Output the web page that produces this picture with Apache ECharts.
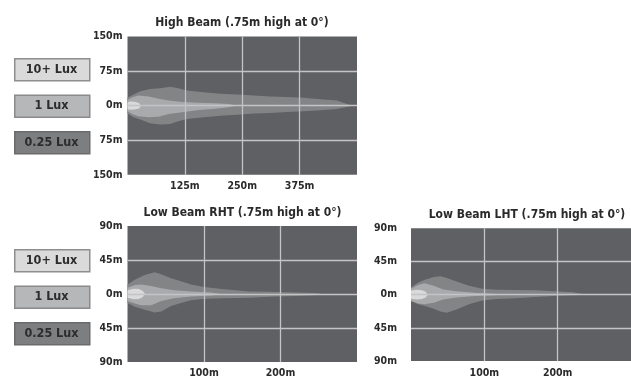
<!DOCTYPE html>
<html><head><meta charset="utf-8">
<script src="https://cdn.jsdelivr.net/npm/echarts@6/dist/echarts.min.js"></script>
<style>html,body{margin:0;padding:0;background:#fff}#c{width:631px;height:379px}</style>
</head><body><div id="c"></div>
<script>
// ---------- data ----------
const titles = ['High Beam (.75m high at 0°)', 'Low Beam RHT (.75m high at 0°)', 'Low Beam LHT (.75m high at 0°)'];
const legendLabels = ['10+ Lux', '1 Lux', '0.25 Lux'];

// High beam (distance m, upper m, lower m)
const hbDist025 = [0, 13, 28, 49, 71, 93, 111, 129, 166, 202, 238, 275, 311, 347, 383, 420, 456, 490];
const hbUp025   = [17, 24, 31, 36, 38, 41, 38, 33, 29, 26, 24, 22, 20, 19, 17, 14, 11, 0];
const hbLo025   = [-17, -25, -30, -38, -41, -40, -34, -29, -25, -22, -20, -17, -16, -14, -12, -10, -7, 0];
const hbDist1   = [0, 12, 24, 46, 68, 90, 119, 155, 191, 220, 238];
const hbUp1     = [12, 19, 22, 20, 15, 11, 8, 6.5, 5, 3.5, 0];
const hbLo1     = [-12, -19, -23, -25, -24, -18, -14.5, -9.5, -6.5, -3.5, 0];
const hbDist10  = [0, 5, 15, 25, 30];
const hbUp10    = [7, 9, 8.5, 6, 0];
const hbLo10    = [-7, -9, -8.5, -6, 0];

// Low beam RHT
const rhDist025 = [0, 9.5, 22.5, 35.5, 44, 57, 70, 83, 100, 126, 159, 185, 219, 245, 255];
const rhUp025   = [12.7, 19, 25, 28.7, 26, 21, 17, 12.7, 9.3, 6.3, 3.4, 3, 2, 1.3, 0];
const rhLo025   = [-11.8, -17, -21, -24.5, -23, -16, -12, -8.4, -6.3, -5.5, -5, -3.8, -2.5, -1.7, 0];
const rhDist1   = [0, 9.5, 18, 31, 44, 61, 83, 109, 123];
const rhUp1     = [8.4, 12, 12.7, 10.5, 7.6, 5, 3.4, 2.1, 0];
const rhLo1     = [-9.3, -12.7, -14.8, -14.8, -9.3, -5.5, -3.4, -2.1, 0];
const rhDist10  = [0, 8, 15, 20, 23];
const rhUp10    = [5, 7, 6.5, 4, 0];
const rhLo10    = [-5, -7, -6.5, -4, 0];

// Low beam LHT
const lhDist025 = [0, 9.6, 18, 31, 40, 49, 62, 79, 97, 116, 142, 169, 195, 221, 239];
const lhUp025   = [10, 16, 20, 24, 25, 22.5, 18, 12, 8, 6.7, 6.3, 5.8, 4.6, 3.3, 0];
const lhLo025   = [-8.75, -13, -15, -19, -23, -24.6, -20, -13, -8, -6, -5, -3.3, -1.7, -0.8, 0];
const lhDist1   = [0, 9.6, 18, 31, 44, 62, 88, 114, 125];
const lhUp1     = [8, 13, 15.4, 12, 7, 4.6, 2.5, 1.2, 0];
const lhLo1     = [-8.75, -12, -13, -11, -6.7, -3.7, -2, -0.8, 0];
const lhDist10  = [0, 8, 15, 20, 23];
const lhUp10    = [5.5, 6.5, 6, 4, 0];
const lhLo10    = [-5.5, -6.5, -6, -4, 0];

// axes
const hbXMax = 500, hbXInt = 125, hbYMax = 150, hbYInt = 75;
const lbXMax = 300, lbXInt = 100, lbYMax = 90, lbYInt = 45;

// ---------- styles ----------
const FONT = "'Liberation Sans Narrow','DejaVu Sans Condensed',sans-serif";
const C_BG = '#5f6063', C025 = '#838486', C1 = '#a9aaac', C10 = '#dadadb', C_GRID = '#c4c4c6';

const chart = echarts.init(document.getElementById('c'), null, {renderer: 'canvas'});

function levels(d025, u025, l025, d1, u1, l1, d10, u10, l10) {
  return [
    {dist: d025, up: u025, lo: l025, color: C025},
    {dist: d1, up: u1, lo: l1, color: C1},
    {dist: d10, up: u10, lo: l10, color: C10}
  ];
}
const allLevels = [
  levels(hbDist025, hbUp025, hbLo025, hbDist1, hbUp1, hbLo1, hbDist10, hbUp10, hbLo10),
  levels(rhDist025, rhUp025, rhLo025, rhDist1, rhUp1, rhLo1, rhDist10, rhUp10, rhLo10),
  levels(lhDist025, lhUp025, lhLo025, lhDist1, lhUp1, lhLo1, lhDist10, lhUp10, lhLo10)
];

function bandSeries(idx) {
  const lv = allLevels[idx];
  return {
    type: 'custom', xAxisIndex: idx, yAxisIndex: idx, z: 2, silent: true, animation: false,
    data: lv.map((l, i) => [l.dist[0], 0, i]),
    encode: {x: 0, y: 1},
    renderItem: function (params, api) {
      const l = lv[params.dataIndex];
      const pts = [];
      for (let k = 0; k < l.dist.length; k++) pts.push(api.coord([l.dist[k], l.up[k]]));
      for (let k = l.dist.length - 1; k >= 0; k--) pts.push(api.coord([l.dist[k], l.lo[k]]));
      return {type: 'polygon', shape: {points: pts}, style: {fill: l.color}};
    }
  };
}

const grids = [
  {left: 127.5, top: 36.5, width: 229.5, height: 138.3},
  {left: 127.5, top: 226, width: 229.5, height: 137.5},
  {left: 411, top: 228.3, width: 229.5, height: 137.5}
];

const AX_FS = 10.5;
function xAxis(i, max, int, margin) {
  return {
    type: 'value', gridIndex: i, min: 0, max: max, interval: int, z: 5,
    axisLine: {show: false}, axisTick: {show: false},
    splitLine: {show: true, showMinLine: false, showMaxLine: false, lineStyle: {color: C_GRID, width: 1.3}},
    axisLabel: {showMinLabel: false, showMaxLabel: false, margin: margin, color: '#2a2a2a',
      fontFamily: FONT, fontWeight: 'bold', fontSize: AX_FS, formatter: v => v + 'm'}
  };
}
function yAxis(i, max, int, margin) {
  return {
    type: 'value', gridIndex: i, min: -max, max: max, interval: int, z: 5,
    axisLine: {show: false}, axisTick: {show: false},
    splitLine: {show: true, showMinLine: false, showMaxLine: false, lineStyle: {color: C_GRID, width: 1.3}},
    axisLabel: {margin: margin, color: '#2a2a2a', fontFamily: FONT, fontWeight: 'bold', fontSize: AX_FS,
      formatter: v => Math.abs(v) + 'm'}
  };
}

function legendGraphics(top0) {
  const fills = [C10, '#b6b7b9', '#7d7e80'];
  const strokes = ['#8e8e90', '#8a8a8c', '#6a6b6d'];
  const tops = [top0, top0 + 36.5, top0 + 73];
  const g = [];
  legendLabels.forEach((t, i) => {
    g.push({type: 'rect', left: 14, top: tops[i], shape: {width: 75, height: 22},
      style: {fill: fills[i], stroke: strokes[i], lineWidth: 1.5}, silent: true});
    g.push({type: 'text', x: 51.5, y: tops[i] + 11.5, style: {text: t, fill: '#2c2c2c',
      font: 'bold 12.5px ' + FONT, textAlign: 'center', textVerticalAlign: 'middle'}, silent: true});
  });
  return g;
}

const titleStyle = {color: '#2a2a2a', fontFamily: FONT, fontWeight: 'bold', fontSize: 12};

chart.setOption({
  backgroundColor: '#ffffff',
  animation: false,
  title: [
    {text: titles[0], left: 242, top: 17, textAlign: 'center', textStyle: titleStyle, padding: 0},
    {text: titles[1], left: 242.5, top: 207, textAlign: 'center', textStyle: titleStyle, padding: 0},
    {text: titles[2], left: 527, top: 209, textAlign: 'center', textStyle: titleStyle, padding: 0}
  ],
  grid: grids.map(g => Object.assign({show: true, backgroundColor: C_BG, borderWidth: 0, containLabel: false}, g)),
  xAxis: [xAxis(0, hbXMax, hbXInt, 6), xAxis(1, lbXMax, lbXInt, 6), xAxis(2, lbXMax, lbXInt, 7)],
  yAxis: [yAxis(0, hbYMax, hbYInt, 5), yAxis(1, lbYMax, lbYInt, 5), yAxis(2, lbYMax, lbYInt, 14)],
  series: [bandSeries(0), bandSeries(1), bandSeries(2)],
  graphic: legendGraphics(58).concat(legendGraphics(249))
});
</script></body></html>
